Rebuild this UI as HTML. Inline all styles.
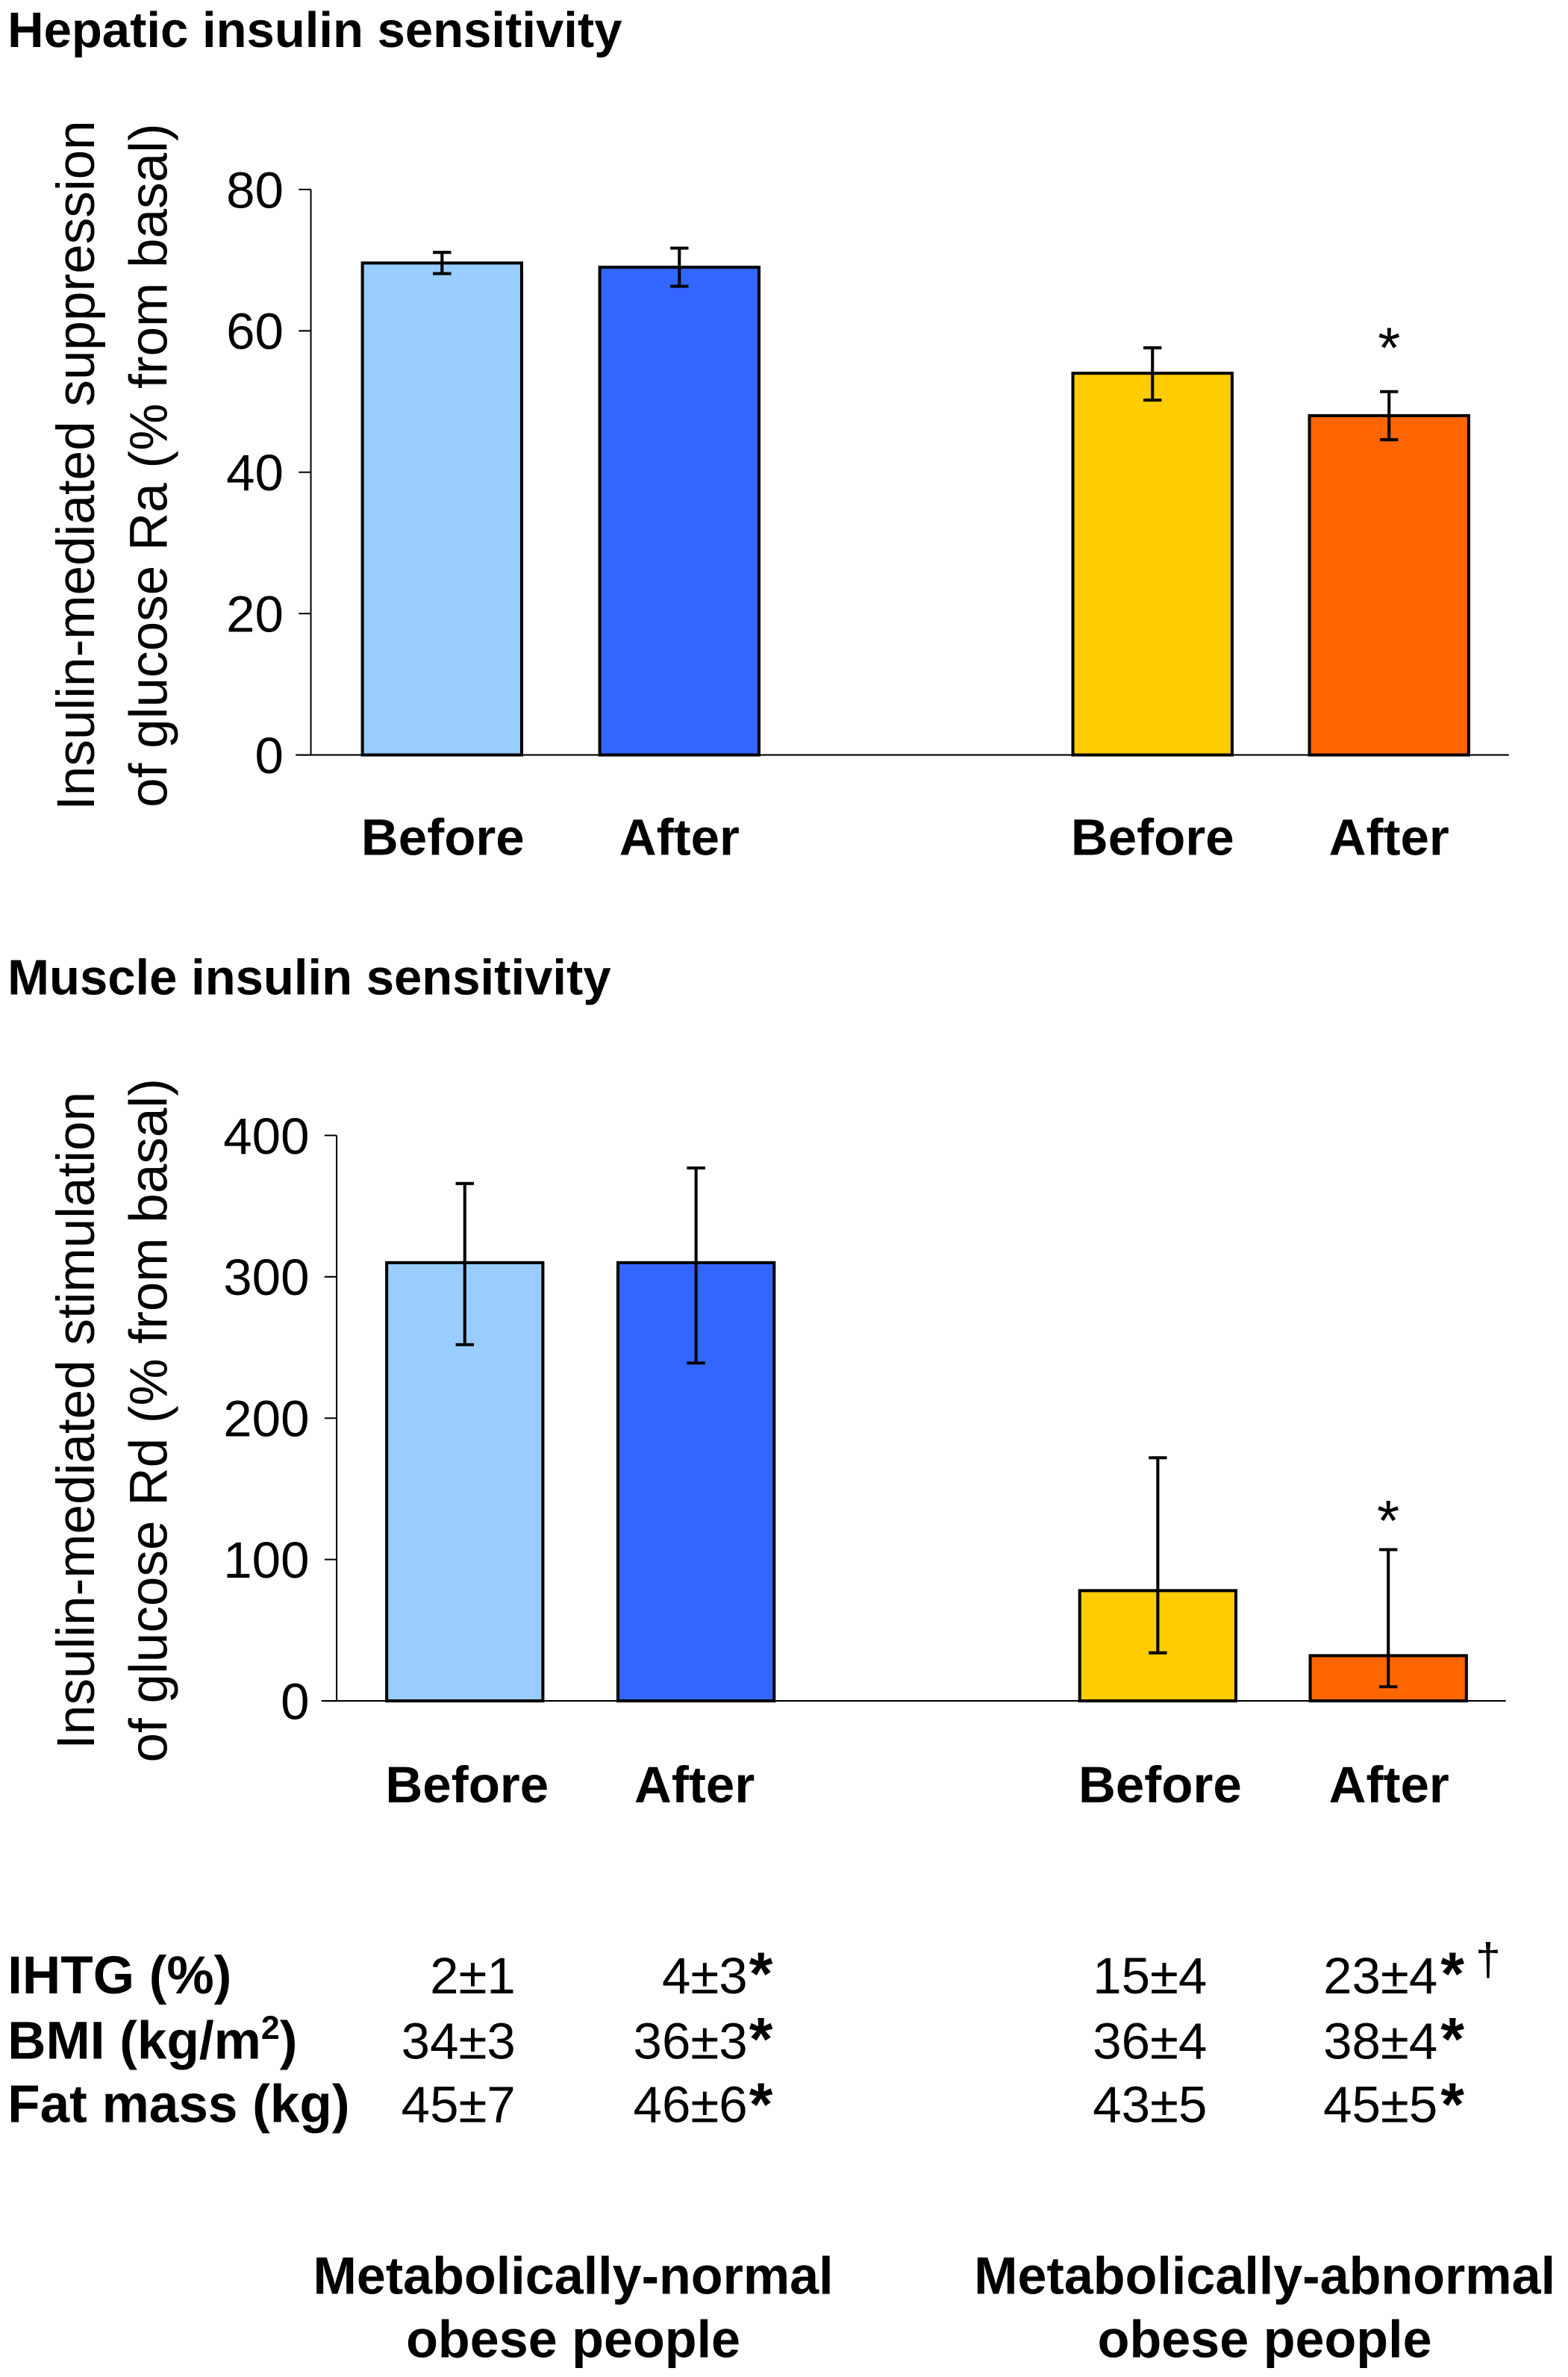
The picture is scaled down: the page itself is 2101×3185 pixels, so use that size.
<!DOCTYPE html>
<html><head><meta charset="utf-8"><style>
html,body{margin:0;padding:0;background:#fff;}
svg{display:block;}
text{font-family:"Liberation Sans",Arial,sans-serif;fill:#000;}
.b{font-weight:bold;}
</style></head><body>
<svg id="fig" width="2101" height="3185" viewBox="0 0 1034 1568" preserveAspectRatio="none" xmlns="http://www.w3.org/2000/svg">
<text class="b" x="5" y="31" font-size="33">Hepatic insulin sensitivity</text>
<text class="b" x="5" y="656" font-size="33">Muscle insulin sensitivity</text>
<g id="top"></g>
<g id="bot"></g>
<g font-size="34">
<text class="b" x="5" y="1315" font-size="35">IHTG (%)</text>
<text class="b" x="5" y="1358" font-size="35">BMI (kg/m<tspan font-size="22" dy="-13">2</tspan><tspan dy="13">)</tspan></text>
<text class="b" x="5" y="1400" font-size="35">Fat mass (kg)</text>
<g text-anchor="end">
<text x="340" y="1315">2±1</text><text x="493" y="1315">4±3</text><text x="796" y="1315">15±4</text><text x="948" y="1315">23±4</text>
<text x="340" y="1358">34±3</text><text x="493" y="1358">36±3</text><text x="796" y="1358">36±4</text><text x="948" y="1358">38±4</text>
<text x="340" y="1400">45±7</text><text x="493" y="1400">46±6</text><text x="796" y="1400">43±5</text><text x="948" y="1400">45±5</text>
</g>
<g font-size="40" class="b">
<text x="494" y="1316">*</text><text x="950" y="1316">*</text><text x="973" y="1303" font-size="30" font-weight="normal">†</text>
<text x="494" y="1359">*</text><text x="950" y="1359">*</text>
<text x="494" y="1402">*</text><text x="950" y="1402">*</text>
</g>
</g>
<g class="b" font-size="34.5" text-anchor="middle">
<text x="378" y="1513">Metabolically-normal</text>
<text x="378" y="1555">obese people</text>
<text x="834" y="1513">Metabolically-abnormal</text>
<text x="834" y="1555">obese people</text>
</g>
</svg>
<script>
const categories = ["Before","After","Before","After"];
const colors = ["#99ccff","#3366ff","#ffcc00","#ff6600"];
const hepaticValues = [69.6, 69, 54, 48];
const hepaticErrLow = [1.5, 2.7, 3.8, 3.4];
const hepaticErrHigh = [1.5, 2.7, 3.6, 3.4];
const hepaticTicks = [0, 20, 40, 60, 80];
const muscleValues = [310, 310, 78, 32];
const muscleErrLow = [58, 71, 44, 22];
const muscleErrHigh = [56, 67, 94, 75];
const muscleTicks = [0, 100, 200, 300, 400];
const sigStar = [false, false, false, true];

const NS = "http://www.w3.org/2000/svg";
function mk(parent, tag, attrs, txt) {
  const e = document.createElementNS(NS, tag);
  for (const k in attrs) e.setAttribute(k, attrs[k]);
  if (txt !== undefined) e.textContent = txt;
  parent.appendChild(e);
  return e;
}
function drawChart(g, cfg) {
  const y = v => cfg.y0 - (v - cfg.min) / (cfg.max - cfg.min) * (cfg.y0 - cfg.y1);
  const ax = mk(g, "line", {x1: cfg.ax, x2: cfg.ax, y1: cfg.y1, y2: cfg.y0, stroke: "#000", "stroke-width": 1});
  
  
  const base = mk(g, "line", {x1: cfg.ax - 10, x2: cfg.xEnd, y1: cfg.y0, y2: cfg.y0, stroke: "#000", "stroke-width": 1});
  
  
  cfg.ticks.forEach(t => {
    mk(g, "line", {x1: cfg.ax - 8, x2: cfg.ax, y1: y(t), y2: y(t), stroke: "#000", "stroke-width": 1});
    const tl = mk(g, "text", {x: cfg.ax - 18, y: y(t) + 12, "font-size": 34, "text-anchor": "end"}, String(t));
    
    
  });
  const tt = mk(g, "text", {"font-size": 35, "text-anchor": "middle", transform: `translate(${cfg.titleX},${cfg.titleY}) rotate(-90)`});
  
  
  mk(tt, "tspan", {x: 0, y: 0}, cfg.title1);
  mk(tt, "tspan", {x: 0, y: 48}, cfg.title2);
  cfg.values.forEach((v, i) => {
    const cx = cfg.centers[i], w = cfg.barW;
    const r = mk(g, "rect", {x: cx - w / 2, y: y(v), width: w, height: cfg.y0 - y(v), fill: colors[i], stroke: "#000", "stroke-width": 2});
    
    
    const hi = y(v + cfg.errHigh[i]), lo = y(v - cfg.errLow[i]);
    const eb = mk(g, "path", {d: `M${cx},${hi}V${lo}M${cx - 6},${hi}H${cx + 6}M${cx - 6},${lo}H${cx + 6}`, stroke: "#000", "stroke-width": 2, fill: "none"});
    
    
    if (sigStar[i]) {
      const s = mk(g, "text", {x: cx, y: hi - cfg.starGap, "font-size": 38, "text-anchor": "middle"}, "*");
      
      
    }
    const cl = mk(g, "text", {x: cfg.labelCenters[i], y: cfg.labelY, "font-size": 34, "font-weight": "bold", "text-anchor": "middle"}, categories[i]);
    
    
  });
}
drawChart(document.getElementById("top"), {
  ax: 205, y0: 498, y1: 125, min: 0, max: 80, xEnd: 995, ticks: hepaticTicks,
  values: hepaticValues, errLow: hepaticErrLow, errHigh: hepaticErrHigh,
  centers: [291.5, 448, 760, 916], barW: 105, labelCenters: [292, 448, 760, 916], labelY: 564,
  starGap: 16,
  titleX: 62, titleY: 307, title1: "Insulin-mediated suppression", title2: "of glucose Ra (% from basal)"
});
drawChart(document.getElementById("bot"), {
  ax: 222, y0: 1122, y1: 749, min: 0, max: 400, xEnd: 993, ticks: muscleTicks,
  values: muscleValues, errLow: muscleErrLow, errHigh: muscleErrHigh,
  centers: [306.5, 459, 763.5, 915.5], barW: 103, labelCenters: [308, 458, 765, 916], labelY: 1189,
  starGap: 6,
  titleX: 62, titleY: 937, title1: "Insulin-mediated stimulation", title2: "of glucose Rd (% from basal)"
});
</script>
</body></html>
